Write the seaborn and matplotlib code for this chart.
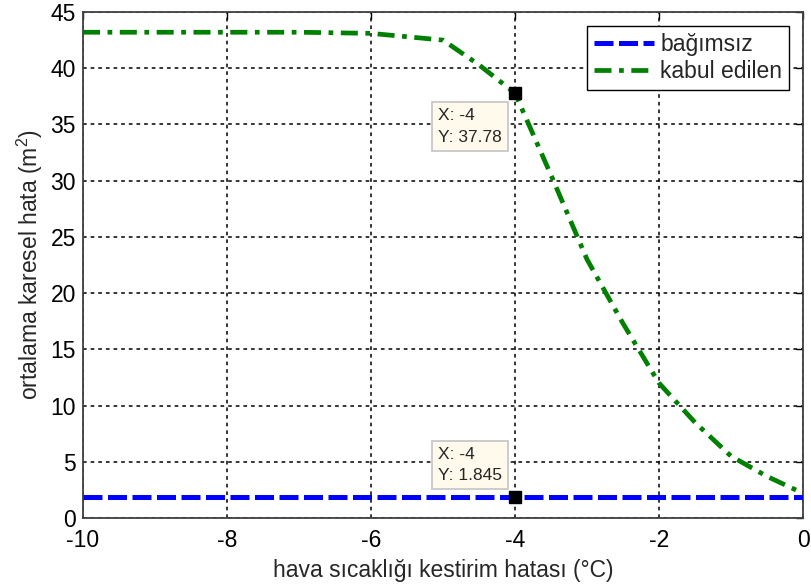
import matplotlib
matplotlib.use("Agg")
import matplotlib.pyplot as plt
import seaborn as sns
import pandas as pd

# temperature forecast error (°C)
x_error = [-10, -9, -8, -7, -6, -5, -4.5, -4, -3.5, -3, -2.5, -2, -1.5, -1, -0.5, 0]
# mean squared error of the independent model
mse_independent = [1.845] * len(x_error)
# mean squared error of the accepted model
mse_accepted = [43.2, 43.2, 43.2, 43.2, 43.1, 42.5, 40.3, 37.78, 30.5, 23.0,
                17.3, 12.0, 8.5, 5.5, 3.7, 2.2]

tip_x = -4
tip_y_independent = 1.845
tip_y_accepted = 37.78

series_names = ["bağımsız", "kabul edilen"]
x_ticks = [-10, -8, -6, -4, -2, 0]
y_ticks = [0, 5, 10, 15, 20, 25, 30, 35, 40, 45]

sns.set_style("white")
plt.rcParams["font.family"] = ["Liberation Sans", "DejaVu Sans"]
plt.rcParams["mathtext.fontset"] = "custom"
plt.rcParams["mathtext.rm"] = "Liberation Sans"
plt.rcParams["axes.unicode_minus"] = False

fig = plt.figure(figsize=(8.11, 5.87), dpi=100)
ax = fig.add_axes([83 / 811, 69 / 587, 720 / 811, 506 / 587])

df = pd.DataFrame({
    "x": x_error * 2,
    "y": mse_independent + mse_accepted,
    "seri": [series_names[0]] * len(x_error) + [series_names[1]] * len(x_error),
})

sns.lineplot(data=df[df.seri == series_names[0]], x="x", y="y", ax=ax,
             color="#0000ff", linewidth=3.6, label=series_names[0], zorder=3)
sns.lineplot(data=df[df.seri == series_names[1]], x="x", y="y", ax=ax,
             color="#008000", linewidth=3.4, label=series_names[1], zorder=4)
lines = ax.get_lines()
lines[0].set_dashes((3.8, 1.1))
lines[1].set_dashes((3.6, 1.6, 1.0, 1.6))

ax.set_xlim(-10, 0)
ax.set_ylim(0, 45)
ax.set_xticks(x_ticks)
ax.set_yticks(y_ticks)
ax.tick_params(direction="in", length=5, width=1, labelsize=16.5, colors="black",
               top=True, right=True)
ax.tick_params(axis="x", pad=8)
ax.tick_params(axis="y", pad=5)
for s in ax.spines.values():
    s.set_color("#404040")
    s.set_linewidth(1.3)

ax.grid(True, color="black", linestyle=(0, (2.4, 2.6)), linewidth=1.1)
ax.set_axisbelow(True)

ax.set_xlabel("hava sıcaklığı kestirim hatası (°C)", fontsize=16.5, labelpad=5)
ax.set_ylabel("ortalama karesel hata (m$^2$)", fontsize=16.5, labelpad=4)

# data tips
tip_box = dict(boxstyle="square,pad=0.35", fc="#fffaeb", ec="#c8c8c8", lw=1.3)
ax.plot([tip_x, tip_x], [tip_y_accepted, tip_y_independent], marker="s",
        color="black", markersize=8.5, zorder=6, linestyle="none")
ax.annotate(f"X: {tip_x}\nY: {tip_y_accepted}", xy=(tip_x, tip_y_accepted),
            xytext=(-77, -15), textcoords="offset pixels",
            ha="left", va="top", fontsize=12.5, linespacing=1.55,
            bbox=tip_box, zorder=7)
ax.annotate(f"X: {tip_x}\nY: {tip_y_independent}", xy=(tip_x, tip_y_independent),
            xytext=(-77, 14), textcoords="offset pixels",
            ha="left", va="bottom", fontsize=12.5, linespacing=1.55,
            bbox=tip_box, zorder=7)

leg = ax.legend(loc="upper right", fontsize=16.5, handlelength=2.6,
                fancybox=False, framealpha=1, edgecolor="black",
                borderpad=0.3, labelspacing=0.2, handletextpad=0.3,
                borderaxespad=0.6)
leg.get_frame().set_linewidth(1.0)

fig.savefig("out.png", dpi=100)
